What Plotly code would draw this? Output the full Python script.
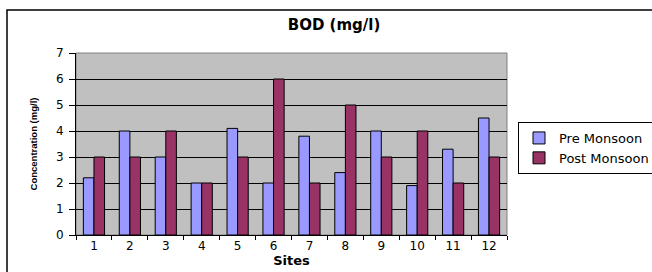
import plotly.graph_objects as go

sites = ["1", "2", "3", "4", "5", "6", "7", "8", "9", "10", "11", "12"]
pre_monsoon = [2.2, 4.0, 3.0, 2.0, 4.1, 2.0, 3.8, 2.4, 4.0, 1.9, 3.3, 4.5]
post_monsoon = [3, 3, 4, 2, 3, 6, 2, 5, 3, 4, 2, 3]
y_ticks = [0, 1, 2, 3, 4, 5, 6, 7]

W, H = 652, 272
L, R, T, B = 76, 145, 53, 37
pw = W - L - R
ph = H - T - B

def px(x):
    return (x - L) / pw

def py(y):
    return (H - B - y) / ph

font = "DejaVu Sans, Arial, sans-serif"

fig = go.Figure()
fig.add_trace(go.Bar(x=sites, y=pre_monsoon, name="Pre Monsoon",
                     marker=dict(color="#9999FF", line=dict(color="black", width=1))))
fig.add_trace(go.Bar(x=sites, y=post_monsoon, name="Post Monsoon",
                     marker=dict(color="#993366", line=dict(color="black", width=1))))

fig.update_layout(
    width=W, height=H,
    margin=dict(l=L, r=R, t=T, b=B, autoexpand=False),
    paper_bgcolor="white", plot_bgcolor="#C0C0C0",
    barmode="group", bargap=0.41, bargroupgap=0,
    font=dict(family=font, size=11, color="black"),
    title=dict(text="<b>BOD (mg/l)</b>", x=334 / W, xref="container", xanchor="center",
               y=1 - 24.5 / H, yanchor="middle", font=dict(size=15, family=font)),
    legend=dict(x=px(518), y=py(122), xanchor="left", yanchor="top",
                bgcolor="white", bordercolor="black", borderwidth=1,
                font=dict(size=13, family=font), tracegroupgap=0,
                itemwidth=30),
    showlegend=True,
    shapes=[
        dict(type="rect", xref="paper", yref="paper", x0=0, x1=1, y0=0, y1=1,
             line=dict(color="#808080", width=1), layer="below"),
        dict(type="rect", xref="paper", yref="paper", x0=px(7), x1=px(670), y0=py(10), y1=py(290),
             line=dict(color="black", width=1.5), fillcolor="rgba(0,0,0,0)"),
    ],
)
fig.update_xaxes(
    title=dict(text="<b>Sites</b>", font=dict(size=13, family=font), standoff=2),
    showline=True, linecolor="black", linewidth=1,
    ticks="outside", ticklen=4, tickcolor="black", tickson="boundaries",
    showgrid=False, tickfont=dict(size=12), automargin=False,
)
fig.update_yaxes(
    title=dict(text="<b>Concentration (mg/l)</b>",
               font=dict(size=9.5, family="Liberation Sans Narrow, Arial Narrow, Liberation Sans, sans-serif"),
               standoff=16),
    range=[0, 7], tickvals=y_ticks, showline=True, linecolor="black", linewidth=1,
    ticks="outside", ticklen=6, tickcolor="black", ticklabelstandoff=3,
    showgrid=True, gridcolor="black", gridwidth=1, zeroline=False,
    tickfont=dict(size=12), automargin=False,
)
fig.write_html(
    "out.html",
    config={"displayModeBar": False},
    post_script="document.body.style.margin='0';document.body.style.overflow='hidden';"
                "document.documentElement.style.overflow='hidden';",
)
